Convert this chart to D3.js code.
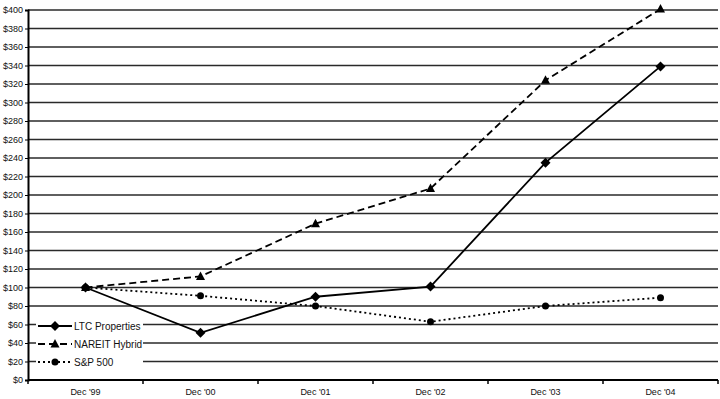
<!DOCTYPE html>
<html>
<head>
<meta charset="utf-8">
<script src="https://cdn.jsdelivr.net/npm/d3@7"></script>
<style>
  body { margin: 0; background: #fff; }
  text { font-family: "Liberation Sans", Arial, sans-serif; fill: #111; }
</style>
</head>
<body>
<div id="chart"></div>
<script>
const categories = ["Dec '99", "Dec '00", "Dec '01", "Dec '02", "Dec '03", "Dec '04"];
const ltcValues = [100, 51, 90, 101, 235, 339];
const nareitValues = [100, 112, 169, 207, 324, 401];
const spValues = [100, 91, 80, 63, 80, 89];
const yTicks = d3.range(0, 401, 20);

const series = [
  { name: "LTC Properties", values: ltcValues, dash: null, marker: "diamond" },
  { name: "NAREIT Hybrid", values: nareitValues, dash: "7,4", marker: "triangle" },
  { name: "S&P 500", values: spValues, dash: "2,3", marker: "circle" }
];

const W = 720, H = 399;
const margin = {top: 10, right: 2, bottom: 19, left: 28};
const width = W - margin.left - margin.right;
const height = H - margin.top - margin.bottom;

const svg = d3.select("#chart").append("svg")
  .attr("width", W).attr("height", H)
  .append("g")
  .attr("transform", "translate(" + margin.left + "," + margin.top + ")");

const x = d3.scaleBand().domain(categories).range([0, width]);
const y = d3.scaleLinear().domain([0, 400]).range([height, 0]);

// gridlines
svg.append("g").selectAll("line")
  .data(yTicks.filter(d => d > 0))
  .enter().append("line")
  .attr("x1", 0).attr("x2", width)
  .attr("y1", d => y(d)).attr("y2", d => y(d))
  .attr("stroke", "#2a2a2a").attr("stroke-width", 1.3);

// y axis
const yAxis = svg.append("g")
  .call(d3.axisLeft(y).tickValues(yTicks).tickSize(3).tickPadding(2).tickFormat(d => "$" + d));
yAxis.select(".domain").attr("stroke", "#000").attr("stroke-width", 2);
yAxis.selectAll("text").style("font-size", "9px").attr("fill", "#111");

// x axis: ticks at band boundaries
const xg = svg.append("g").attr("transform", "translate(0," + height + ")");
xg.append("line").attr("x1", 0).attr("x2", width).attr("stroke", "#000").attr("stroke-width", 2);
xg.selectAll(".bnd")
  .data(categories.concat(["end"]))
  .enter().append("line")
  .attr("x1", (d, i) => i * x.bandwidth()).attr("x2", (d, i) => i * x.bandwidth())
  .attr("y1", 0).attr("y2", 4)
  .attr("stroke", "#000").attr("stroke-width", 1.5);
xg.selectAll(".lbl")
  .data(categories)
  .enter().append("text")
  .attr("x", d => x(d) + x.bandwidth() / 2)
  .attr("y", 15)
  .attr("text-anchor", "middle")
  .style("font-size", "9px")
  .text(d => d);

function drawMarker(g, type, cx, cy) {
  if (type === "diamond") {
    g.append("path").attr("d", `M${cx},${cy - 5}L${cx + 5},${cy}L${cx},${cy + 5}L${cx - 5},${cy}Z`).attr("fill", "#000");
  } else if (type === "triangle") {
    g.append("path").attr("d", `M${cx},${cy - 5}L${cx + 4.5},${cy + 3.5}L${cx - 4.5},${cy + 3.5}Z`).attr("fill", "#000");
  } else {
    g.append("circle").attr("cx", cx).attr("cy", cy).attr("r", 3.5).attr("fill", "#000");
  }
}

const line = d3.line()
  .x((d, i) => x(categories[i]) + x.bandwidth() / 2)
  .y(d => y(d));

series.forEach(s => {
  const g = svg.append("g");
  g.append("path")
    .datum(s.values)
    .attr("d", line)
    .attr("fill", "none")
    .attr("stroke", "#000")
    .attr("stroke-width", 1.8)
    .attr("stroke-dasharray", s.dash);
  s.values.forEach((v, i) => drawMarker(g, s.marker, x(categories[i]) + x.bandwidth() / 2, y(v)));
});

// legend
const legend = svg.append("g").attr("transform", "translate(8,306)");
legend.append("rect").attr("x", 0).attr("y", 0).attr("width", 107).attr("height", 55).attr("fill", "#fff");
series.forEach((s, i) => {
  const ly = 10 + i * 18;
  const g = legend.append("g");
  g.append("line").attr("x1", 2).attr("x2", 36).attr("y1", ly).attr("y2", ly)
    .attr("stroke", "#000").attr("stroke-width", 1.8).attr("stroke-dasharray", s.dash);
  drawMarker(g, s.marker, 19, ly);
  g.append("text").attr("x", 38).attr("y", ly + 3.5).style("font-size", "10px").text(s.name);
});
</script>
</body>
</html>
